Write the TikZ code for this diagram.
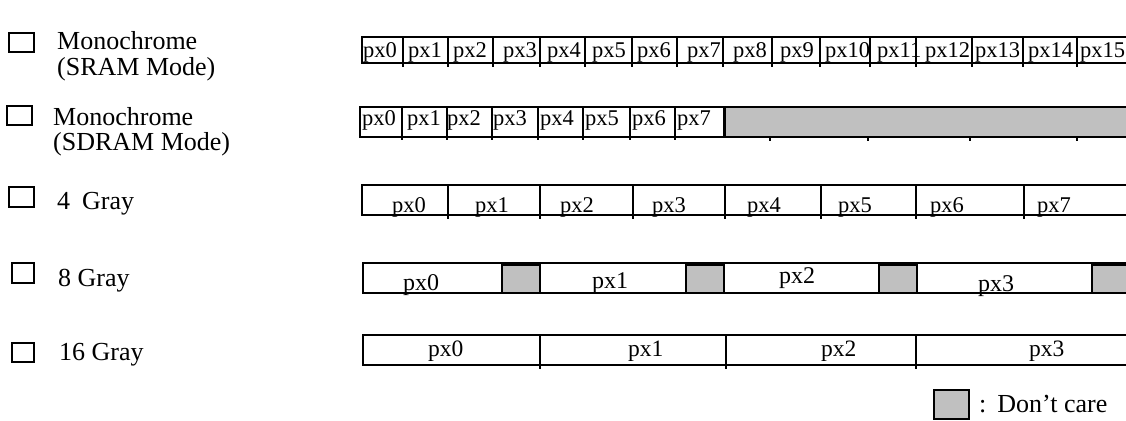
\documentclass[tikz,border=0pt]{standalone}
\usepackage{fontspec}
\setmainfont{Liberation Serif}
\definecolor{dcgray}{HTML}{C0C0C0}
\begin{document}
\begin{tikzpicture}[x=1pt,y=-1pt,
  frame/.style={line width=1.5pt},
  divl/.style={line width=1.1pt},
  dc/.style={fill=dcgray,draw=black,line width=1.5pt},
  chk/.style={line width=1.5pt},
  lbl/.style={inner sep=0pt,anchor=base west},
  cellA/.style={lbl,font=\fontsize{22.5}{24}\selectfont},
  cellB/.style={lbl,font=\fontsize{24}{26}\selectfont},
  cellC/.style={lbl,font=\fontsize{23.5}{26}\selectfont},
  side/.style={lbl,font=\fontsize{26}{27}\selectfont,align=left}]
\useasboundingbox (0,0) rectangle (1126,420);

% ---- left labels with check boxes
\draw[chk] (9,33) rectangle (34,52);
\node[side] (t1a) at (57,50) {Monochrome};
\node[side] (t1b) at (57,75) {(SRAM Mode)};
\draw[chk] (7,106) rectangle (32,125);
\node[side] (t2a) at (53,125) {Monochrome};
\node[side] (t2b) at (53,150) {(SDRAM Mode)};
\draw[chk] (9,187) rectangle (34,207);
\node[side] (t3) at (57,209) {4\hspace{12pt}Gray};
\draw[chk] (12,263) rectangle (34,283);
\node[side] (t4) at (58,286) {8 Gray};
\draw[chk] (12,343) rectangle (34,362);
\node[side] (t5) at (59,360) {16 Gray};

% ---- row 1 : Monochrome SRAM
\draw[frame] (1126,37) -- (362,37) -- (362,63) -- (1126,63);
\foreach \x in {403,448,493,540,585,632,677,723,772,820,870,916,972,1023,1077}
  \draw[divl] (\x,37) -- (\x,67);
\foreach \x/\t in {363/0,408/1,453/2,503/3,547/4,592/5,637/6,687/7,733/8,780/9,825/10,877/11,925/12,975/13,1028/14,1080/15}
  \node[cellA] (ra\t) at (\x,58) {px\t};

% ---- row 2 : Monochrome SDRAM
\draw[frame] (725,107) -- (360,107) -- (360,137) -- (725,137);
\foreach \x in {402,447,492,538,583,630,675}
  \draw[divl] (\x,107) -- (\x,140);
\draw[dc] (1130,107) -- (724,107) -- (724,137) -- (1130,137);
\draw[line width=3pt] (724,106) -- (724,138);
\foreach \x in {770,868,970,1077}
  \draw[divl] (\x,137) -- (\x,141);
\foreach \x/\t in {362/0,407/1,447/2,493/3,540/4,585/5,632/6,677/7}
  \node[cellA] (rb\t) at (\x,125) {px\t};

% ---- row 3 : 4 Gray
\draw[frame] (1126,185) -- (362,185) -- (362,215) -- (1126,215);
\foreach \x in {448,540,633,725,821,916,1024}
  \draw[divl] (\x,185) -- (\x,219);
\foreach \x/\t in {392/0,475/1,560/2,652/3,747/4,838/5,930/6,1037/7}
  \node[cellA] (rc\t) at (\x,212) {px\t};

% ---- row 4 : 8 Gray
\draw[frame] (1126,263) -- (363,263) -- (363,293) -- (1126,293);
\foreach \x in {502,686,879}
  \draw[dc] (\x,265) rectangle ++(38,28);
\draw[dc] (1130,265) -- (1092,265) -- (1092,293) -- (1130,293);
\node[cellB] (rd0) at (403,290) {px0};
\node[cellB] (rd1) at (592,288) {px1};
\node[cellB] (rd2) at (779,283) {px2};
\node[cellB] (rd3) at (978,291) {px3};

% ---- row 5 : 16 Gray
\draw[frame] (1126,335) -- (363,335) -- (363,365) -- (1126,365);
\foreach \x in {540,726,916}
  \draw[divl] (\x,335) -- (\x,369);
\node[cellC] (re0) at (428,356) {px0};
\node[cellC] (re1) at (628,356) {px1};
\node[cellC] (re2) at (821,356) {px2};
\node[cellC] (re3) at (1029,356) {px3};

% ---- legend
\draw[dc] (934,390) rectangle (969,419);
\node[side] (leg) at (979,412) {:\hspace{11pt}Don’t care};
\end{tikzpicture}
\end{document}
